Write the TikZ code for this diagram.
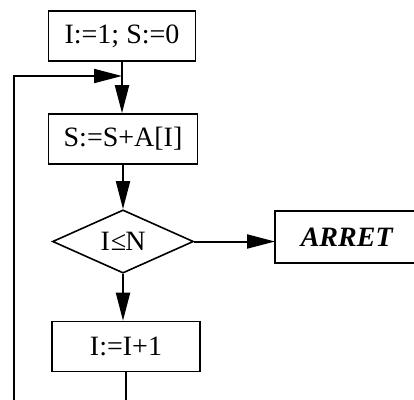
\documentclass[tikz,border=0pt]{standalone}
\usepackage{fontspec}
\setmainfont{Liberation Serif}
\usetikzlibrary{arrows.meta,shapes.geometric}
\begin{document}
\begin{tikzpicture}[x=1pt,y=-1pt,
  stepbox/.style={draw,line width=1.6pt,minimum width=147pt,minimum height=50pt,inner sep=0pt,font=\fontsize{28}{30}\selectfont},
  decide/.style={draw,diamond,line width=1.6pt,minimum width=141pt,minimum height=53pt,inner sep=0pt,font=\fontsize{28}{30}\selectfont},
  boxline/.style={line width=1.6pt},
  flow/.style={line width=2pt,-{Triangle[length=28pt,width=14pt]}},
  plain/.style={line width=2pt}]
\useasboundingbox (0,0) rectangle (414,399);
\clip (0,0) rectangle (414,399);
\node[stepbox] (init) at (122,36) {I:=1; S:=0};
\node[stepbox,minimum width=149pt] (sum) at (123,139) {S:=S+A[I]};
\node[decide] (test) at (123,241.5) {I\kern1pt≤\kern-1ptN};
\node[stepbox,minimum width=148pt] (incr) at (126,346.5) {I:=I+1};
\node[stepbox,draw=none,anchor=west,minimum width=0pt,inner xsep=25pt,font=\fontsize{28}{30}\selectfont\bfseries\itshape] (stop) at (275,237) {ARRET};
\draw[boxline] (stop.north west) ++(200,0) -- (stop.north west) -- (stop.south west) -- ++(200,0);
\coordinate (join) at (122,76);
\coordinate (leftbot) at (14,410);
\coordinate (lefttop) at (14,76);
\coordinate (incrbot) at (126,410);
\draw[flow] (init.south) -- (init.south |- sum.north);
\draw[flow] (sum.south -| test.north) -- (test.north);
\draw[flow] (test.east) -- (test.east -| stop.west);
\draw[flow] (test.south) -- (test.south |- incr.north);
\draw[plain] (incr.south) -- (incrbot);
\draw[flow] (leftbot) -- (lefttop) -- (join);
\end{tikzpicture}
\end{document}
